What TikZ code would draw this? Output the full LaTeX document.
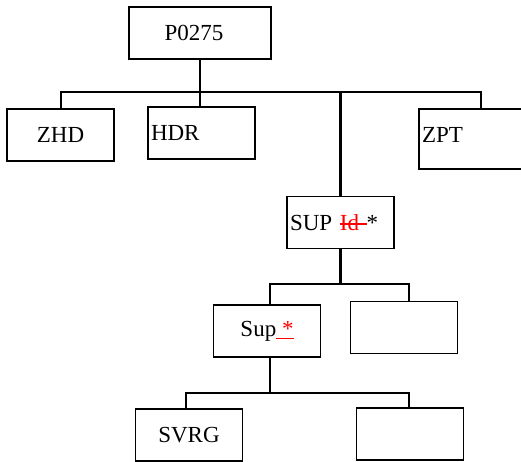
\documentclass[tikz,border=0pt]{standalone}
\usepackage{fontspec}
\setmainfont{Liberation Serif}
\newcommand{\redstrike}[1]{{\color{red}\setbox0\hbox{#1}\rlap{\rule[0.25em]{\wd0}{1.2pt}}\box0}}
\newcommand{\redunder}[1]{{\color{red}\setbox0\hbox{#1}\rlap{\rule[-0.12em]{\wd0}{1.2pt}}\box0}}
\begin{document}
\begin{tikzpicture}[x=1pt, y=-1pt,
		box/.style={draw, line width=1.3pt, minimum width=107pt, minimum height=52pt, inner sep=3pt, font=\fontsize{23}{27}\selectfont},
		leftbox/.style={box, text width=101pt, align=left},
		link/.style={line width=2.4pt}]
		\useasboundingbox (0,0) rectangle (521,461);
		
		% top level
		\node[box, minimum width=142pt] (p0275) at (200,33) {P0275\hspace*{12pt}};
		\node[box] (zhd) at (60.5,135) {ZHD};
		\node[leftbox] (hdr) at (201.5,133) {HDR};
		\node[leftbox, minimum height=60pt] (zpt) at (472.5,139) {\raisebox{8pt}{ZPT}};
		\coordinate (bar1l) at (61,92);
		\coordinate (bar1r) at (481,92);
		\draw[link] (bar1l |- zhd.north) -- (bar1l) -- (bar1r) -- (bar1r |- zpt.north);
		\draw[link] (p0275.south) -- (p0275.south |- hdr.north);
		
		% second level
		\node[leftbox] (sup) at (340.5,222.5) {SUP \redstrike{Id\ }*};
		\draw[link] (sup.north |- bar1l) -- (sup.north);
		\node[box] (supstar) at (267,331) {Sup\redunder{\ *}};
		\node[box] (blanka) at (404,327.5) {};
		\coordinate (bar2l) at (270,284);
		\coordinate (bar2r) at (409,284);
		\draw[link] (sup.south) -- (sup.south |- bar2l);
		\draw[link] (bar2l |- supstar.north) -- (bar2l) -- (bar2r) -- (bar2r |- blanka.north);
		
		% third level
		\node[box] (svrg) at (189,435) {SVRG};
		\node[box] (blankb) at (410,434) {};
		\coordinate (bar3l) at (186,393);
		\coordinate (bar3r) at (409,393);
		\draw[link] (bar2l |- supstar.south) -- (bar2l |- bar3l);
		\draw[link] (bar3l |- svrg.north) -- (bar3l) -- (bar3r) -- (bar3r |- blankb.north);
	\end{tikzpicture}
\end{document}
